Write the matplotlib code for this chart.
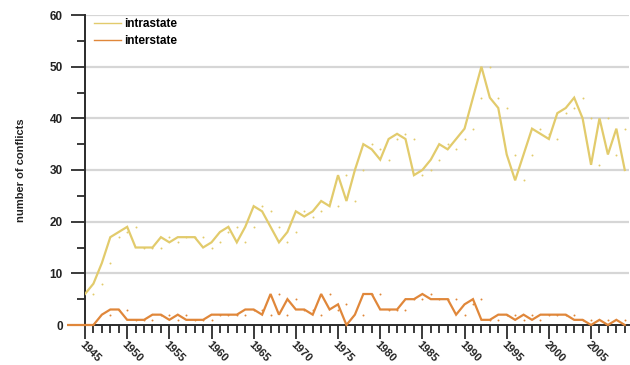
import numpy as np
import matplotlib
matplotlib.use("Agg")
import matplotlib.pyplot as plt
from matplotlib.ticker import MultipleLocator

# Conflict counts per year
intra_years = list(range(1945, 2010))
intrastate = [6, 8, 12, 17, 18, 19, 15, 15, 15, 17,
              16, 17, 17, 17, 15, 16, 18, 19, 16, 19,
              23, 22, 19, 16, 18, 22, 21, 22, 24, 23,
              29, 24, 30, 35, 34, 32, 36, 37, 36, 29,
              30, 32, 35, 34, 36, 38, 44, 50, 44, 42,
              33, 28, 33, 38, 37, 36, 41, 42, 44, 40,
              31, 40, 33, 38, 30]

inter_years = list(range(1943, 2010))
interstate = [0, 0, 0, 0, 2, 3, 3, 1, 1, 1,
              2, 2, 1, 2, 1, 1, 1, 2, 2, 2,
              2, 3, 3, 2, 6, 2, 5, 3, 3, 2,
              6, 3, 4, 0, 2, 6, 6, 3, 3, 3,
              5, 5, 6, 5, 5, 5, 2, 4, 5, 1,
              1, 2, 2, 1, 2, 1, 2, 2, 2, 2,
              1, 1, 0, 1, 0, 1, 0]

series_labels = ["intrastate", "interstate"]
yticks = [0, 10, 20, 30, 40, 50, 60]
xticks = list(range(1945, 2010, 5))

YELLOW = "#e2cb6c"
ORANGE = "#e0873a"
DARK = "#2b2b2b"

plt.rcParams["font.family"] = ["Liberation Sans", "DejaVu Sans"]

fig = plt.figure(figsize=(6.3, 3.65), dpi=100)
ax = fig.add_axes([85 / 630, 1 - 325 / 365, 544 / 630, 310 / 365])

ax.set_xlim(1945, 2009.5)
ax.set_ylim(0, 60)

# horizontal grid
for v in yticks[1:]:
    ax.axhline(v, color="#d6d6d6", lw=1.6, zorder=0)

# lines
ax.plot(intra_years, intrastate, color=YELLOW, lw=1.6, label=series_labels[0],
        zorder=3, solid_joinstyle="miter")
ax.plot(inter_years, interstate, color=ORANGE, lw=1.6, label=series_labels[1],
        zorder=3, clip_on=False, solid_joinstyle="miter")

# lagged markers: each year's value shown at the following year
iy = np.array(intra_years) + 1
m = iy <= 2009
ax.scatter(iy[m], np.array(intrastate)[m], s=2.0, color=YELLOW, lw=0, zorder=2)
ey = np.array(inter_years) + 1
m = (ey <= 2009) & (ey >= 1945)
ax.scatter(ey[m], np.array(interstate)[m], s=2.0, color=ORANGE, lw=0, zorder=2)

# axes styling
for s in ["top", "right"]:
    ax.spines[s].set_visible(False)
for s in ["left", "bottom"]:
    ax.spines[s].set_color(DARK)
    ax.spines[s].set_linewidth(1.4)

ax.set_yticks(yticks)
ax.yaxis.set_minor_locator(MultipleLocator(5))
ax.set_xticks(xticks)
ax.xaxis.set_minor_locator(MultipleLocator(1))
ax.tick_params(axis="both", which="major", length=10, width=1.3, color=DARK,
               direction="out")
ax.tick_params(axis="both", which="minor", length=6, width=1.3, color=DARK,
               direction="out")
ax.tick_params(axis="y", which="major", pad=6)
ax.tick_params(axis="x", which="major", pad=0)

ax.set_yticklabels([str(v) for v in yticks], fontsize=8.5, fontweight="bold",
                   color="#222222")
ax.set_xticklabels([str(v) for v in xticks], fontsize=8, fontweight="bold",
                   color="#222222", rotation=-45, ha="left", va="top",
                   rotation_mode="anchor")

ax.set_ylabel("number of conflicts", fontsize=8, fontweight="bold",
              color="#222222", labelpad=17)

leg = ax.legend(loc="upper left", frameon=False, fontsize=8.5,
                handlelength=2.3, handletextpad=0.25, borderaxespad=0.0,
                labelspacing=0.4, bbox_to_anchor=(0.008, 1.005))
for t in leg.get_texts():
    t.set_fontweight("bold")
for h in leg.get_lines():
    h.set_linewidth(1.0)

fig.savefig("out.png", dpi=100)
